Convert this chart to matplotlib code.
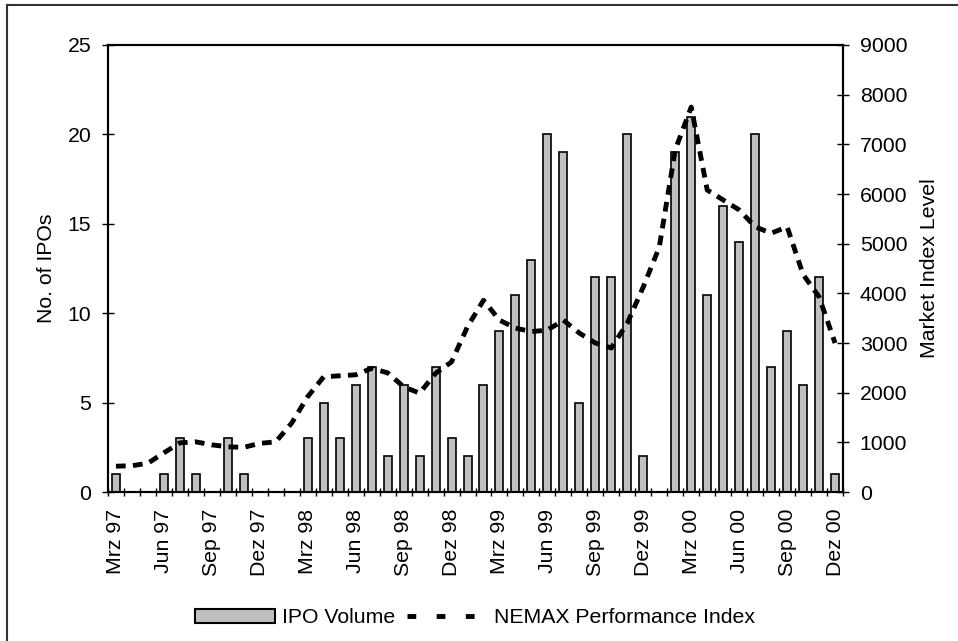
import numpy as np
import matplotlib
matplotlib.use("Agg")
import matplotlib.pyplot as plt
from matplotlib.lines import Line2D
from matplotlib.patches import Patch

plt.rcParams['font.family'] = ['Liberation Sans', 'DejaVu Sans']

# ----------------------------
# Data
# ----------------------------
month_names = ["Jan", "Feb", "Mrz", "Apr", "Mai", "Jun",
               "Jul", "Aug", "Sep", "Okt", "Nov", "Dez"]
months = []
for yr in ["97", "98", "99", "00"]:
    for m in month_names:
        months.append(f"{m} {yr}")
months = months[2:]  # Mrz 97 .. Dez 00

ipo_volume = [1, 0, 0, 1, 3, 1, 0, 3, 1, 0,
              0, 0, 3, 5, 3, 6, 7, 2, 6, 2, 7, 3,
              2, 6, 9, 11, 13, 20, 19, 5, 12, 12, 20, 2,
              0, 19, 21, 11, 16, 14, 20, 7, 9, 6, 12, 1]

nemax = [520, 530, 580, 790, 990, 1010, 950, 910, 900, 980,
         1010, 1390, 1920, 2320, 2340, 2360, 2490, 2400, 2120, 1990, 2390, 2620,
         3330, 3860, 3460, 3300, 3230, 3260, 3460, 3200, 3000, 2900, 3400, 4130,
         4930, 6890, 7750, 6080, 5880, 5680, 5340, 5210, 5340, 4380, 3930, 3000]

x = np.arange(len(months))
FS = 15.3

# ----------------------------
# Figure
# ----------------------------
fig = plt.figure(figsize=(9.58, 6.41), dpi=100)
ax = fig.add_axes([0.1127, 0.2324, 0.7673, 0.6974])
ax2 = ax.twinx()

ax.bar(x, ipo_volume, width=0.5, color="#c0c0c0", edgecolor="black",
       linewidth=1.2, zorder=2)
ax2.plot(x, nemax, color="black", lw=3.5, dashes=(2, 1.5), zorder=3)

ax.set_xlim(-0.5, len(months) - 0.5)
ax.set_ylim(0, 25)
ax.set_yticks(np.arange(0, 26, 5))
ax2.set_ylim(0, 9000)
ax2.set_yticks(np.arange(0, 9001, 1000))

# category labels every 3 months, ticks at boundaries
ax.set_xticks(x[::3])
ax.set_xticklabels(months[::3], rotation=90, fontsize=FS)
ax.set_xticks(np.arange(-0.5, len(months), 1), minor=True)
ax.tick_params(axis="x", which="major", length=0, pad=12)
ax.tick_params(axis="x", which="minor", length=6, width=1, direction="inout")
ax.tick_params(axis="y", labelsize=FS, length=8, width=1, direction="inout", pad=8)
ax2.tick_params(axis="y", labelsize=FS, length=8, width=1, direction="inout", pad=8)

ax.set_ylabel("No. of IPOs", fontsize=FS)
ax.yaxis.set_label_coords(-0.0707, 0.5)
ax2.set_ylabel("Market Index Level", fontsize=FS)
ax2.yaxis.set_label_coords(1.105, 0.5)

for a in (ax, ax2):
    for s in a.spines.values():
        s.set_linewidth(1.5)

# legend
handles = [Patch(facecolor="#c0c0c0", edgecolor="black", linewidth=1.5),
           Line2D([0], [0], color="black", lw=3.5, dashes=(1.8, 4.2))]
fig.legend(handles, ["IPO Volume", "NEMAX Performance Index"],
           loc="center", bbox_to_anchor=(0.496, 0.036), ncol=2, frameon=False,
           fontsize=FS, handlelength=3.76, handleheight=0.6,
           handletextpad=0.33, columnspacing=0.56)

# outer chart-area border (only top and left are visible)
fig.add_artist(Line2D([7 / 958, 7 / 958], [0, 1 - 5 / 641],
                      transform=fig.transFigure, color="#333333", lw=1.5))
fig.add_artist(Line2D([7 / 958, 1], [1 - 5 / 641, 1 - 5 / 641],
                      transform=fig.transFigure, color="#333333", lw=1.5))

fig.savefig("out.png", dpi=100)
